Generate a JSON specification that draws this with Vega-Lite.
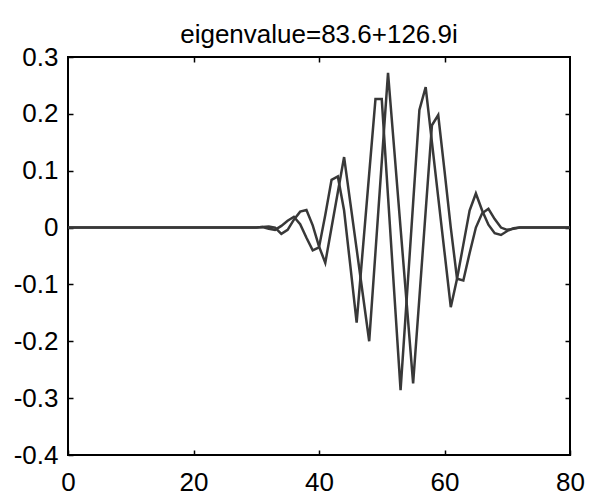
{
  "$schema": "https://vega.github.io/schema/vega-lite/v6.json",
  "width": 502,
  "height": 398,
  "autosize": "none",
  "padding": {"left": 68, "top": 57, "right": 27, "bottom": 41},
  "background": "white",
  "title": {"text": "eigenvalue=83.6+126.9i", "font": "Liberation Sans", "fontSize": 26, "fontWeight": "normal", "color": "black", "offset": -4, "anchor": "middle"},
  "config": {
    "view": {"stroke": "black", "strokeWidth": 2},
    "axis": {"grid": false, "domain": false, "labelFont": "Liberation Sans", "labelFontSize": 26, "labelColor": "black", "tickColor": "black", "tickWidth": 1.5, "title": null}
  },
  "data": {"values": [
    {"x": 0, "y": 0, "part": "re"}, {"x": 28, "y": 0, "part": "re"}, {"x": 30, "y": 0, "part": "re"},
    {"x": 31, "y": 0.001, "part": "re"}, {"x": 32, "y": -0.002, "part": "re"}, {"x": 33, "y": -0.004, "part": "re"},
    {"x": 34, "y": 0.003, "part": "re"}, {"x": 35, "y": 0.012, "part": "re"}, {"x": 36, "y": 0.019, "part": "re"},
    {"x": 37, "y": 0.006, "part": "re"}, {"x": 38, "y": -0.018, "part": "re"}, {"x": 39, "y": -0.04, "part": "re"},
    {"x": 40, "y": -0.035, "part": "re"}, {"x": 41, "y": 0.022, "part": "re"}, {"x": 42, "y": 0.084, "part": "re"},
    {"x": 43, "y": 0.09, "part": "re"}, {"x": 44, "y": 0.03, "part": "re"}, {"x": 45, "y": -0.068, "part": "re"},
    {"x": 46, "y": -0.167, "part": "re"}, {"x": 47, "y": -0.036, "part": "re"}, {"x": 48, "y": 0.095, "part": "re"},
    {"x": 49, "y": 0.226, "part": "re"}, {"x": 50, "y": 0.226, "part": "re"}, {"x": 51, "y": 0.055, "part": "re"},
    {"x": 52, "y": -0.116, "part": "re"}, {"x": 53, "y": -0.286, "part": "re"}, {"x": 54, "y": -0.122, "part": "re"},
    {"x": 55, "y": 0.043, "part": "re"}, {"x": 56, "y": 0.207, "part": "re"}, {"x": 57, "y": 0.247, "part": "re"},
    {"x": 58, "y": 0.15, "part": "re"}, {"x": 59, "y": 0.053, "part": "re"}, {"x": 60, "y": -0.043, "part": "re"},
    {"x": 61, "y": -0.14, "part": "re"}, {"x": 62, "y": -0.09, "part": "re"}, {"x": 63, "y": -0.03, "part": "re"},
    {"x": 64, "y": 0.03, "part": "re"}, {"x": 65, "y": 0.06, "part": "re"}, {"x": 66, "y": 0.03, "part": "re"},
    {"x": 67, "y": 0.005, "part": "re"}, {"x": 68, "y": -0.01, "part": "re"}, {"x": 69, "y": -0.013, "part": "re"},
    {"x": 70, "y": -0.006, "part": "re"}, {"x": 71, "y": -0.001, "part": "re"}, {"x": 72, "y": 0, "part": "re"},
    {"x": 80, "y": 0, "part": "re"},
    {"x": 0, "y": 0, "part": "im"}, {"x": 28, "y": 0, "part": "im"}, {"x": 30, "y": 0, "part": "im"},
    {"x": 31, "y": 0.001, "part": "im"}, {"x": 32, "y": 0.002, "part": "im"}, {"x": 33, "y": 0.0, "part": "im"},
    {"x": 34, "y": -0.011, "part": "im"}, {"x": 35, "y": -0.004, "part": "im"}, {"x": 36, "y": 0.014, "part": "im"},
    {"x": 37, "y": 0.028, "part": "im"}, {"x": 38, "y": 0.031, "part": "im"}, {"x": 39, "y": 0.004, "part": "im"},
    {"x": 40, "y": -0.033, "part": "im"}, {"x": 41, "y": -0.062, "part": "im"}, {"x": 42, "y": 0.0, "part": "im"},
    {"x": 43, "y": 0.062, "part": "im"}, {"x": 44, "y": 0.124, "part": "im"}, {"x": 45, "y": 0.043, "part": "im"},
    {"x": 46, "y": -0.038, "part": "im"}, {"x": 47, "y": -0.119, "part": "im"}, {"x": 48, "y": -0.2, "part": "im"},
    {"x": 49, "y": -0.043, "part": "im"}, {"x": 50, "y": 0.115, "part": "im"}, {"x": 51, "y": 0.272, "part": "im"},
    {"x": 52, "y": 0.136, "part": "im"}, {"x": 53, "y": -0.001, "part": "im"}, {"x": 54, "y": -0.137, "part": "im"},
    {"x": 55, "y": -0.274, "part": "im"}, {"x": 56, "y": -0.123, "part": "im"}, {"x": 57, "y": 0.029, "part": "im"},
    {"x": 58, "y": 0.18, "part": "im"}, {"x": 59, "y": 0.198, "part": "im"}, {"x": 60, "y": 0.1, "part": "im"},
    {"x": 61, "y": 0.0, "part": "im"}, {"x": 62, "y": -0.09, "part": "im"}, {"x": 63, "y": -0.093, "part": "im"},
    {"x": 64, "y": -0.045, "part": "im"}, {"x": 65, "y": 0.0, "part": "im"}, {"x": 66, "y": 0.025, "part": "im"},
    {"x": 67, "y": 0.033, "part": "im"}, {"x": 68, "y": 0.015, "part": "im"}, {"x": 69, "y": 0.0, "part": "im"},
    {"x": 70, "y": -0.004, "part": "im"}, {"x": 71, "y": -0.002, "part": "im"}, {"x": 72, "y": 0, "part": "im"},
    {"x": 80, "y": 0, "part": "im"}
  ]},
  "layer": [
    {
      "mark": {"type": "line", "color": "#383838", "strokeWidth": 2.5, "strokeJoin": "miter"},
      "encoding": {
        "x": {"field": "x", "type": "quantitative", "scale": {"domain": [0, 80], "nice": false, "zero": false},
              "axis": {"orient": "bottom", "values": [0, 20, 40, 60, 80], "tickSize": -5, "labelPadding": 19, "labelFlush": false}},
        "y": {"field": "y", "type": "quantitative", "scale": {"domain": [-0.4, 0.3], "nice": false, "zero": false},
              "axis": {"orient": "left", "values": [-0.4, -0.3, -0.2, -0.1, 0, 0.1, 0.2, 0.3], "tickSize": -5, "labelPadding": 15, "labelFlush": false,
                       "labelExpr": "abs(datum.value) < 1e-9 ? '0' : (datum.value < 0 ? '-' + format(-datum.value, '.1f') : format(datum.value, '.1f'))"}},
        "detail": {"field": "part"}
      }
    },
    {
      "mark": {"type": "point", "opacity": 0},
      "encoding": {
        "x": {"field": "x", "type": "quantitative", "scale": {"domain": [0, 80], "nice": false, "zero": false},
              "axis": {"orient": "top", "values": [20, 40, 60], "tickSize": -5, "labels": false}},
        "y": {"field": "y", "type": "quantitative", "scale": {"domain": [-0.4, 0.3], "nice": false, "zero": false},
              "axis": {"orient": "right", "values": [-0.3, -0.2, -0.1, 0, 0.1, 0.2], "tickSize": -5, "labels": false}}
      }
    }
  ],
  "resolve": {"axis": {"x": "independent", "y": "independent"}}
}
